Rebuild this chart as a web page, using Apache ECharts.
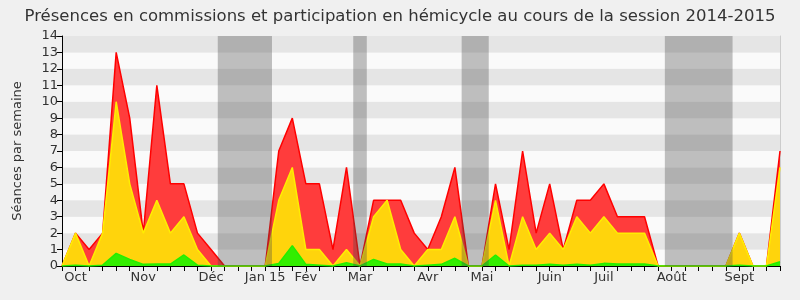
<!DOCTYPE html>
<html><head><meta charset="utf-8">
<script src="https://cdn.jsdelivr.net/npm/echarts@6/dist/echarts.min.js"></script>
<style>html,body{margin:0;padding:0;background:#f0f0f0}#c{width:800px;height:300px}</style>
</head><body><div id="c"></div>
<script>
const weekLabels = ['', 'Oct', '', '', '', '', 'Nov', '', '', '', '', 'Déc', '', '', '', 'Jan 15', '', '', 'Fév', '', '', '', 'Mar', '', '', '', '', 'Avr', '', '', '', 'Mai', '', '', '', '', 'Juin', '', '', '', 'Juil', '', '', '', '', 'Août', '', '', '', '', 'Sept', '', '', ''];
const totalVals = [0, 2, 1, 2, 13, 9, 2, 11, 5, 5, 2, 1, 0, 0, 0, 0, 7, 9, 5, 5, 1, 6, 0, 4, 4, 4, 2, 1, 3, 6, 0, 0, 5, 1, 7, 2, 5, 1, 4, 4, 5, 3, 3, 3, 0, 0, 0, 0, 0, 0, 2, 0, 0, 7];
const commissionVals = [0, 2, 0, 2, 10, 5, 2, 4, 2, 3, 1, 0, 0, 0, 0, 0, 4, 6, 1, 1, 0, 1, 0, 3, 4, 1, 0, 1, 1, 3, 0, 0, 4, 0, 3, 1, 2, 1, 3, 2, 3, 2, 2, 2, 0, 0, 0, 0, 0, 0, 2, 0, 0, 6];
const hemicycleVals = [0, 0.05, 0, 0.05, 0.77, 0.4, 0.1, 0.12, 0.12, 0.67, 0.05, 0, 0, 0, 0, 0, 0.15, 1.24, 0.1, 0.05, 0, 0.2, 0, 0.4, 0.12, 0.12, 0, 0.05, 0.1, 0.47, 0, 0, 0.67, 0, 0.04, 0.04, 0.1, 0.05, 0.1, 0.05, 0.16, 0.12, 0.12, 0.12, 0, 0, 0, 0, 0, 0, 0.04, 0, 0, 0.26];
// vacation periods: first and last week index covered
const vacationStart = [12, 22, 30, 45];
const vacationEnd = [15, 22, 31, 49];
const yMax = 14;

const font = 'DejaVu Sans';
const chart = echarts.init(document.getElementById('c'), null, {renderer: 'canvas'});
const areaSeries = (name, data, line, fill, z) => ({
  name, type: 'line', data, z, showSymbol: false, symbol: 'none', animation: false,
  lineStyle: {color: line, width: 1.5}, areaStyle: {color: fill, opacity: 1}
});
chart.setOption({
  backgroundColor: '#f0f0f0',
  animation: false,
  title: {text: 'Présences en commissions et participation en hémicycle au cours de la session 2014-2015',
    left: 'center', top: 3, textStyle: {fontFamily: font, fontSize: 16.5, fontWeight: 'normal', color: '#333'}},
  grid: {left: 62, right: 20, top: 36, bottom: 34},
  xAxis: [{
    type: 'category', boundaryGap: false, data: weekLabels,
    axisLine: {lineStyle: {color: '#000', width: 1}},
    axisTick: {interval: 0, length: 5, lineStyle: {color: '#000'}},
    axisLabel: {interval: 0, color: '#333', fontFamily: font, fontSize: 13, margin: 5}
  }, {
    type: 'category', boundaryGap: false, data: weekLabels, position: 'top',
    axisLine: {show: false}, axisLabel: {show: false},
    axisTick: {interval: 0, inside: true, length: 2, lineStyle: {color: '#000'}}
  }, {
    type: 'value', min: 0, max: weekLabels.length - 1, show: false
  }],
  yAxis: [{
    type: 'value', min: 0, max: yMax, interval: 1, name: 'Séances par semaine',
    nameLocation: 'middle', nameGap: 38, nameRotate: 90,
    nameTextStyle: {fontFamily: font, fontSize: 13, color: '#333'},
    axisLine: {show: true, lineStyle: {color: '#000'}},
    axisTick: {show: true, length: 5, lineStyle: {color: '#000'}},
    axisLabel: {color: '#333', fontFamily: font, fontSize: 13, margin: 4},
    splitLine: {show: false},
    splitArea: {show: true, areaStyle: {color: ['#fafafa', '#e5e5e5']}}
  }, {
    type: 'value', min: 0, max: yMax, interval: 1, position: 'right',
    axisLine: {show: true, lineStyle: {color: '#cccccc'}},
    axisTick: {show: false}, axisLabel: {show: false}, splitLine: {show: false}
  }],
  series: [
    areaSeries('Total', totalVals, '#ff0000', '#ff3c3c', 2),
    areaSeries('Commission', commissionVals, '#ffee00', '#ffd40c', 3),
    areaSeries('Hémicycle', hemicycleVals, '#22ee00', '#33ee00', 4),
    {
      type: 'line', name: 'Vacances', xAxisIndex: 2, yAxisIndex: 0, data: [], z: 10, silent: true,
      markArea: {
        silent: true, z: 10,
        itemStyle: {color: 'rgba(70,70,70,0.33)'},
        data: vacationStart.map((s, k) => [{xAxis: s - 0.5}, {xAxis: vacationEnd[k] + 0.5}])
      }
    }
  ]
});
</script></body></html>
